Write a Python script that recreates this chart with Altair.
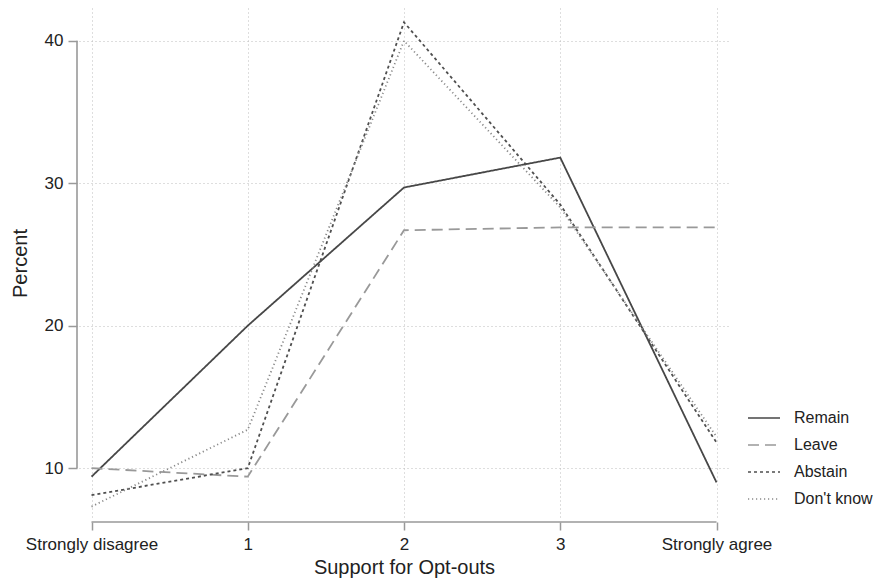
import altair as alt
import pandas as pd

# ---- data ----
x_values = [0, 1, 2, 3, 4]
x_labels = ["Strongly disagree", "1", "2", "3", "Strongly agree"]
groups = ["Remain", "Leave", "Abstain", "Don't know"]
remain = [9.4, 20.0, 29.7, 31.8, 9.0]
leave = [10.0, 9.4, 26.7, 26.9, 26.9]
abstain = [8.1, 10.0, 41.3, 28.5, 11.8]
dont_know = [7.3, 12.7, 40.0, 28.3, 12.2]
y_ticks = [10, 20, 30, 40]

series = {"Remain": remain, "Leave": leave, "Abstain": abstain, "Don't know": dont_know}
rows = []
for g in groups:
    for xv, yv in zip(x_values, series[g]):
        rows.append({"x": xv, "Percent": yv, "group": g})
df = pd.DataFrame(rows)

FONT = "Liberation Sans"
label_expr = "[" + ",".join("'" + s + "'" for s in x_labels) + "][datum.value]"

x_scale = alt.Scale(domain=[-0.08, 4.08], nice=False, zero=False)
y_scale = alt.Scale(domain=[6.5, 42.3], nice=False, zero=False)

colors = ["#474747", "#999999", "#4f4f4f", "#8a8a8a"]
dashes = [[1, 0], [11, 6], [3, 3], [1.2, 2.8]]

x_axis = alt.Axis(values=x_values, labelExpr=label_expr, title="Support for Opt-outs",
                  domain=False, offset=4, tickSize=8, tickColor="#999999", tickWidth=1.5,
                  labelFontSize=17, labelPadding=6, labelColor="#222222", labelFont=FONT,
                  titleFont=FONT, titleFontSize=20, titleFontWeight="normal",
                  titleColor="#222222", titlePadding=5,
                  grid=True, gridDash=[1, 3], gridColor="#bdbdbd", labelFlush=False)
y_axis = alt.Axis(values=y_ticks, title="Percent", domain=False, offset=2, tickSize=9,
                  tickColor="#999999", tickWidth=1.5, labelFontSize=17, labelPadding=5,
                  labelColor="#222222", labelFont=FONT, titleFont=FONT, titleFontSize=20,
                  titleFontWeight="normal", titleColor="#222222", titlePadding=14,
                  grid=True, gridDash=[1, 3], gridColor="#bdbdbd")

lines = alt.Chart(df).mark_line(strokeWidth=1.8).encode(
    x=alt.X("x:Q", scale=x_scale, axis=x_axis),
    y=alt.Y("Percent:Q", scale=y_scale, axis=y_axis),
    color=alt.Color("group:N", scale=alt.Scale(domain=groups, range=colors),
                    legend=alt.Legend(orient="none", legendX=668, legendY=393, title=None,
                                      symbolType="stroke", symbolSize=1024, symbolStrokeWidth=1.6,
                                      labelFontSize=16, labelFont=FONT, labelColor="#222222",
                                      labelOffset=13, rowPadding=2, padding=0)),
    strokeDash=alt.StrokeDash("group:N", scale=alt.Scale(domain=groups, range=dashes)),
    detail="group:N",
)

y_axis_line = alt.Chart(pd.DataFrame({"Percent": [y_ticks[0]], "Percent2": [y_ticks[-1]]})).mark_rule(
    color="#999999", strokeWidth=1.6).encode(
    y=alt.Y("Percent:Q", scale=y_scale, axis=y_axis), y2="Percent2:Q", x=alt.value(-2))

x_axis_line = alt.Chart(pd.DataFrame({"x": [x_values[0]], "x2": [x_values[-1]]})).mark_rule(
    color="#999999", strokeWidth=1.6).encode(
    x=alt.X("x:Q", scale=x_scale, axis=x_axis), x2="x2:Q", y=alt.value(514))

chart = alt.layer(lines, y_axis_line, x_axis_line).properties(
    width=650, height=510,
    background="white",
    autosize=alt.AutoSizeParams(type="none"),
    padding={"left": 71, "top": 0, "right": 149, "bottom": 61},
).configure_view(stroke=None)

chart.save("out.html", embed_options={"renderer": "svg", "actions": False})
